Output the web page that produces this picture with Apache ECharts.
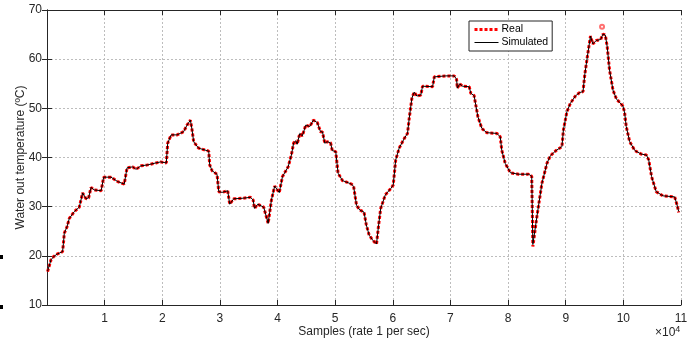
<!DOCTYPE html>
<html>
<head>
<meta charset="utf-8">
<script src="https://cdn.jsdelivr.net/npm/echarts@6/dist/echarts.min.js"></script>
<style>
  html, body { margin: 0; padding: 0; background: #fff; }
  #chart { width: 699px; height: 343px; }
</style>
</head>
<body>
<div id="chart"></div>
<script>
// sample index (1 per sec)
const samples = [
  100, 700, 1200, 1840, 2700, 2850, 3000, 3470, 3870, 4740, 5600, 5900, 6180, 6770, 7220, 7640, 8200, 9400, 9830,
  11100, 12260, 13400, 13890, 14860, 15450, 16300, 17470, 18900, 19700, 20700, 20940, 21530, 22570, 23700, 24300,
  24880, 25170, 25450, 26300, 28060, 28230, 28650, 29500, 29800, 30400, 31350, 31700, 32400, 33850, 35300, 35770,
  36000, 36560, 36900, 37600, 38370, 38940, 39500, 39800, 40300, 40850, 41840, 42400, 42800, 43160, 43400, 43860,
  44300, 44900, 45600, 46200, 46900, 47450, 47800, 48200, 48600, 49200, 49500, 50100, 50500, 51270, 52830, 53200,
  53700, 54270, 55000, 55400, 55900, 56500, 57170, 57500, 57900, 58700, 59650, 60070, 60500, 61100, 62000, 62550,
  62850, 63300, 63700, 64170, 64860, 65160, 66900, 67200, 69200, 70650, 71060, 71200, 71600, 72100, 73250, 73540,
  74100, 74760, 75450, 76300, 78060, 78640, 78900, 79500, 80400, 81800, 83560, 84100, 84300, 85000, 85870, 86740,
  87300, 88300, 89340, 89600, 90200, 90800, 91670, 92400, 93000, 93300, 93750, 94300, 94700, 95300, 96060, 96460,
  96870, 97200, 97600, 98200, 98800, 99900, 100200, 100500, 101100, 102000, 103100, 104000, 104400, 104900, 105700,
  106870, 108900, 109200, 109400, 109600
];

// measured water out temperature (ºC)
const tempReal = [
  16.8, 19.2, 19.9, 20.4, 20.85, 22.5, 24.6, 25.9, 27.6, 29.0, 29.9, 30.3, 32.8, 31.6, 31.8, 33.9, 33.4, 33.25, 36.0,
  36.0, 35.1, 34.6, 37.9, 38.1, 37.6, 38.3, 38.5, 38.9, 39.1, 38.9, 42.9, 44.6, 44.6, 45.25, 46.6,
  47.6, 45.6, 43.2, 41.9, 41.3, 38.5, 37.3, 36.6, 33.05, 32.9, 33.25, 30.5, 31.6, 31.7, 31.9, 31.35,
  29.65, 30.5, 30.5, 29.9, 26.6, 31.35, 34.2, 34.4, 32.85, 36.1, 38.1, 40.5, 43.0, 43.4, 42.7, 44.9,
  44.4, 46.6, 46.3, 47.6, 47.1, 45.25, 45.2, 42.9, 43.2, 43.0, 41.4, 41.2, 36.8, 35.3, 34.6, 34.1,
  30.3, 29.3, 28.9, 26.3, 24.2, 23.2, 22.4, 25.9, 29.65, 32.4, 33.7, 34.4, 39.5, 41.9, 43.9, 44.9,
  48.0, 52.0, 53.3, 52.5, 52.7, 54.5, 54.4, 56.4, 56.6, 56.6, 55.9, 54.1, 55.0, 54.5, 54.4, 53.05,
  52.6, 48.3, 45.9, 45.05, 44.9, 44.2, 41.5, 38.8, 36.9, 36.6, 36.6, 36.2, 21.9, 28.0, 34.75, 38.8,
  40.3, 41.4, 42.2, 45.6, 49.3, 51.0, 52.5, 53.2, 53.4, 56.8, 60.5, 64.7, 63.1, 63.8, 64.0, 65.1,
  64.9, 62.5, 57.8, 53.7, 51.9, 50.5, 49.3, 46.3, 43.2, 41.4, 40.7, 40.5, 39.5, 36.1, 33.05,
  32.2, 32.0, 31.7, 30.0, 28.8
];

// simulated water out temperature (ºC)
const tempSim = [
  16.9, 19.2, 19.9, 20.4, 20.85, 22.5, 24.6, 25.9, 27.6, 29.0, 29.9, 30.3, 32.8, 31.6, 31.8, 33.9, 33.4, 33.25, 36.0,
  36.0, 35.1, 34.6, 37.9, 38.1, 37.6, 38.3, 38.5, 38.9, 39.1, 38.9, 42.9, 44.6, 44.6, 45.25, 46.6,
  47.6, 45.6, 43.2, 41.9, 41.3, 38.5, 37.3, 36.6, 33.05, 32.9, 33.25, 30.5, 31.6, 31.7, 31.9, 31.35,
  29.65, 30.5, 30.5, 29.9, 26.6, 31.35, 34.2, 34.4, 32.85, 36.1, 38.1, 40.5, 43.0, 43.4, 42.7, 44.9,
  44.4, 46.6, 46.3, 47.6, 47.1, 45.25, 45.2, 42.9, 43.2, 43.0, 41.4, 41.2, 36.8, 35.3, 34.6, 34.1,
  30.3, 29.3, 28.9, 26.3, 24.2, 23.2, 22.4, 25.9, 29.65, 32.4, 33.7, 34.4, 39.5, 41.9, 43.9, 44.9,
  48.0, 52.0, 53.3, 52.5, 52.7, 54.5, 54.4, 56.4, 56.6, 56.6, 55.9, 54.1, 55.0, 54.5, 54.4, 53.05,
  52.6, 48.3, 45.9, 45.05, 44.9, 44.2, 41.5, 38.8, 36.9, 36.6, 36.6, 36.2, 22.3, 28.0, 34.75, 38.8,
  40.3, 41.4, 42.2, 45.6, 49.3, 51.0, 52.5, 53.2, 53.4, 56.8, 60.5, 64.7, 63.1, 63.8, 64.0, 65.1,
  64.9, 62.5, 57.8, 53.7, 51.9, 50.5, 49.3, 46.3, 43.2, 41.4, 40.7, 40.5, 39.5, 36.1, 33.05,
  32.2, 32.0, 31.7, 30.0, 29.0
];

// isolated measured point above the peak
const realOutliers = [[96300, 66.6]];

const xTicks = [0, 10000, 20000, 30000, 40000, 50000, 60000, 70000, 80000, 90000, 100000, 110000];
const yTicks = [10, 20, 30, 40, 50, 60, 70];

const axisColor = '#262626';
const font = 'Liberation Sans, Arial, Helvetica, sans-serif';

const chart = echarts.init(document.getElementById('chart'), null, { renderer: 'canvas' });

const gridLine = { show: true, lineStyle: { color: '#bdbdbd', width: 1, type: [2, 2] } };

chart.setOption({
  animation: false,
  backgroundColor: '#fff',
  textStyle: { fontFamily: font },
  grid: { left: 47, right: 18, top: 10, bottom: 38, containLabel: false, outerBoundsMode: 'none' },
  legend: {
    data: [
      { name: 'Real', lineStyle: { width: 3 } },
      { name: 'Simulated', lineStyle: { width: 1 } }
    ],
    orient: 'vertical',
    left: 469,
    top: 21,
    padding: [3, 4, 3, 4],
    itemGap: 2,
    itemWidth: 24,
    itemHeight: 12,
    borderColor: axisColor,
    borderWidth: 1,
    backgroundColor: '#fff',
    itemStyle: { opacity: 0 },
    textStyle: { fontFamily: font, fontSize: 10.5, color: '#000', padding: [0, 0, 0, -2] }
  },
  xAxis: [
    {
      type: 'value',
      min: xTicks[0],
      max: xTicks[xTicks.length - 1],
      interval: 10000,
      name: 'Samples (rate 1 per sec)',
      nameLocation: 'middle',
      nameGap: 21,
      nameMoveOverlap: false,
      nameTextStyle: { fontFamily: font, fontSize: 12, color: axisColor },
      axisLine: { show: true, lineStyle: { color: axisColor, width: 1 } },
      axisTick: { show: true, inside: true, length: 5, lineStyle: { color: axisColor } },
      axisLabel: {
        color: axisColor, fontSize: 12, margin: 8, fontFamily: font,
        formatter: v => (v === 0 ? '' : String(v / 10000))
      },
      splitLine: gridLine
    },
    {
      type: 'value',
      position: 'top',
      min: xTicks[0],
      max: xTicks[xTicks.length - 1],
      interval: 10000,
      axisLine: { show: true, lineStyle: { color: axisColor, width: 1 } },
      axisTick: { show: true, inside: true, length: 5, lineStyle: { color: axisColor } },
      axisLabel: { show: false },
      splitLine: { show: false }
    }
  ],
  yAxis: [
    {
      type: 'value',
      min: yTicks[0],
      max: yTicks[yTicks.length - 1],
      interval: 10,
      name: 'Water out temperature (ºC)',
      nameLocation: 'middle',
      nameGap: 20,
      nameMoveOverlap: false,
      nameTextStyle: { fontFamily: font, fontSize: 12, color: axisColor },
      axisLine: { show: true, lineStyle: { color: axisColor, width: 1 } },
      axisTick: { show: true, inside: true, length: 5, lineStyle: { color: axisColor } },
      axisLabel: { color: axisColor, fontSize: 12, margin: 5, fontFamily: font },
      splitLine: gridLine
    },
    {
      type: 'value',
      position: 'right',
      min: yTicks[0],
      max: yTicks[yTicks.length - 1],
      interval: 10,
      axisLine: { show: true, lineStyle: { color: axisColor, width: 1 } },
      axisTick: { show: true, inside: true, length: 5, lineStyle: { color: axisColor } },
      axisLabel: { show: false },
      splitLine: { show: false }
    }
  ],
  series: [
    {
      name: 'Real',
      type: 'line',
      data: samples.map((s, i) => [s, tempReal[i]]),
      symbol: 'none',
      color: '#ff0000',
      lineStyle: { color: '#ff0000', width: 3, type: [3, 2] },
      markPoint: {
        symbol: 'emptyCircle',
        symbolSize: 4,
        itemStyle: { color: '#ff7070', borderColor: '#ff7070', borderWidth: 1 },
        label: { show: false },
        data: realOutliers.map(p => ({ coord: p }))
      },
      z: 2
    },
    {
      name: 'Simulated',
      type: 'line',
      data: samples.map((s, i) => [s, tempSim[i]]),
      symbol: 'none',
      color: '#000',
      lineStyle: { color: '#000', width: 1 },
      z: 3
    }
  ],
  graphic: [
    {
      type: 'text',
      left: 655,
      top: 325,
      style: {
        text: '{a|×10}{b|4}',
        rich: {
          a: { fontFamily: font, fontSize: 12, fill: axisColor, padding: [6, 0, 0, 0] },
          b: { fontFamily: font, fontSize: 9, fill: axisColor }
        }
      }
    },
    { type: 'rect', shape: { x: 0, y: 255, width: 3, height: 4 }, style: { fill: '#000' } },
    { type: 'rect', shape: { x: 0, y: 305, width: 3, height: 4 }, style: { fill: '#000' } }
  ]
});
</script>
</body>
</html>
